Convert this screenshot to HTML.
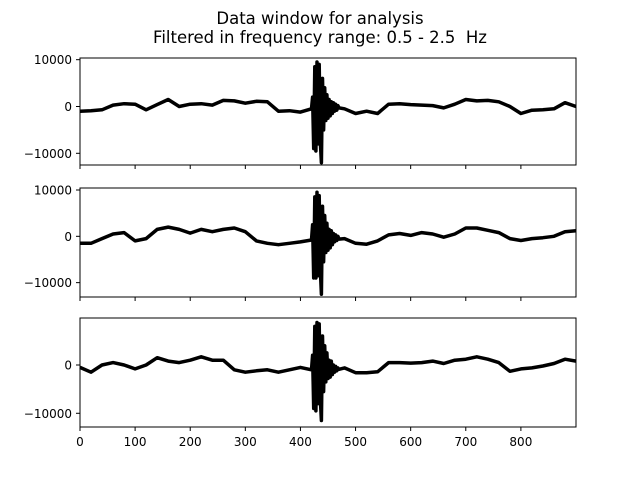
<!DOCTYPE html>
<html><head><meta charset="utf-8"><style>
body{margin:0;background:#fff}
svg text{font-family:"DejaVu Sans","Liberation Sans",sans-serif;fill:#000}
</style></head><body>
<svg id="chart" width="640" height="480" xmlns="http://www.w3.org/2000/svg">
<rect width="640" height="480" fill="#fff"/>
<text x="320" y="24" font-size="16.5" text-anchor="middle">Data window for analysis</text>
<text x="320" y="43" font-size="16.5" text-anchor="middle" xml:space="preserve">Filtered in frequency range: 0.5 - 2.5  Hz</text>
</svg>
<script>
const baseTimes=[0,20,40,60,80,100,120,140,160,180,200,220,240,260,280,300,320,340,360,380,400,420,480,500,520,540,560,580,600,620,640,660,680,700,720,740,760,780,800,820,840,860,880,900];
const base1=[-1000,-900,-700,300,600,500,-700,400,1500,0,500,600,300,1300,1200,700,1100,1000,-1000,-900,-1200,-1000,-500,-1500,-1000,-1500,500,600,400,300,200,-300,500,1500,1200,1300,1000,0,-1500,-800,-700,-500,800,0];
const base2=[-1500,-1500,-500,500,800,-1000,-500,1500,2000,1500,700,1500,1000,1500,1800,1000,-1000,-1500,-1800,-1500,-1200,-800,-500,-1500,-1700,-1000,300,600,200,800,500,-200,500,1800,1800,1300,800,-500,-900,-500,-300,0,1000,1200];
const base3=[-500,-1500,0,500,0,-800,0,1500,800,500,1000,1700,1000,1000,-1000,-1500,-1200,-1000,-1500,-1000,-500,-800,-600,-1600,-1600,-1400,500,500,400,500,800,300,1000,1200,1700,1200,500,-1300,-800,-600,-200,300,1200,800];
const burstTimes=[420,422,424,426,428,430,432,434,436,438,440,442,444,446,448,450,452,454,456,458,460,462,464,466,468,470];
const burst1=[-500,2000,-9000,8500,-9500,9500,-8000,9000,-7500,-12000,6000,-5000,4000,-3000,2500,-2500,1500,-2000,1000,-1500,800,-1000,500,-800,200,-300];
const burst2=[-800,2500,-9000,8500,-9000,9500,-8500,8800,-7000,-12500,6500,-5500,4500,-3500,2800,-3000,1500,-2500,1200,-1800,600,-1200,300,-900,0,-600];
const burst3=[-1000,2000,-9000,8000,-9500,8800,-8000,8500,-7000,-11500,6000,-5500,4000,-3500,2500,-2800,1000,-2500,800,-2000,0,-1500,-300,-1200,-600,-900];
const xTicks=[0,100,200,300,400,500,600,700,800];
const yTicks=[10000,0,-10000];
const panels=[
 {top:58,bottom:165,ymax:10360,ymin:-12500,base:base1,burst:burst1,name:'trace-1'},
 {top:188,bottom:297,ymax:10430,ymin:-13100,base:base2,burst:burst2,name:'trace-2'},
 {top:318,bottom:427,ymax:9730,ymin:-12840,base:base3,burst:burst3,name:'trace-3'}];
const L=80,R=576,XMAX=900;
const svg=document.getElementById('chart');
const NS='http://www.w3.org/2000/svg';
function xs(t){return L+(R-L)*t/XMAX;}
function mk(tag,attrs){const e=document.createElementNS(NS,tag);for(const k in attrs)e.setAttribute(k,attrs[k]);svg.appendChild(e);return e;}
panels.forEach((p,pi)=>{
 const ys=v=>p.top+(p.ymax-v)/(p.ymax-p.ymin)*(p.bottom-p.top);
 const pts=[];
 p.base.forEach((v,i)=>{if(baseTimes[i]<420)pts.push([baseTimes[i],v]);});
 p.burst.forEach((v,i)=>pts.push([burstTimes[i],v]));
 p.base.forEach((v,i)=>{if(baseTimes[i]>470)pts.push([baseTimes[i],v]);});
 const d=pts.map((q,i)=>(i?'L':'M')+xs(q[0]).toFixed(1)+','+ys(q[1]).toFixed(1)).join('');
 const path=mk('path',{d:d,fill:'none',stroke:'#000','stroke-width':3.5,'stroke-linejoin':'round'});
 
 
 const fr=mk('rect',{x:L,y:p.top,width:R-L,height:p.bottom-p.top,fill:'none',stroke:'#000','stroke-width':1});
 
 
 xTicks.forEach(t=>{
  const tk=mk('line',{x1:xs(t),x2:xs(t),y1:p.bottom,y2:p.bottom+4,stroke:'#000'});
  
  
  if(pi===2){const tl=mk('text',{x:xs(t),y:p.bottom+19,'font-size':12,'text-anchor':'middle'});tl.textContent=t;
   
   }
 });
 yTicks.forEach(v=>{
  const y=ys(v); if(y<p.top-0.5||y>p.bottom+0.5)return;
  const tk=mk('line',{x1:L-4,x2:L,y1:y,y2:y,stroke:'#000'});
  
  
  const tl=mk('text',{x:L-8,y:y+4.5,'font-size':12,'text-anchor':'end'});
  tl.textContent=v<0?'\u2212'+Math.abs(v):String(v);
  
  
 });
});
</script>
</body></html>
